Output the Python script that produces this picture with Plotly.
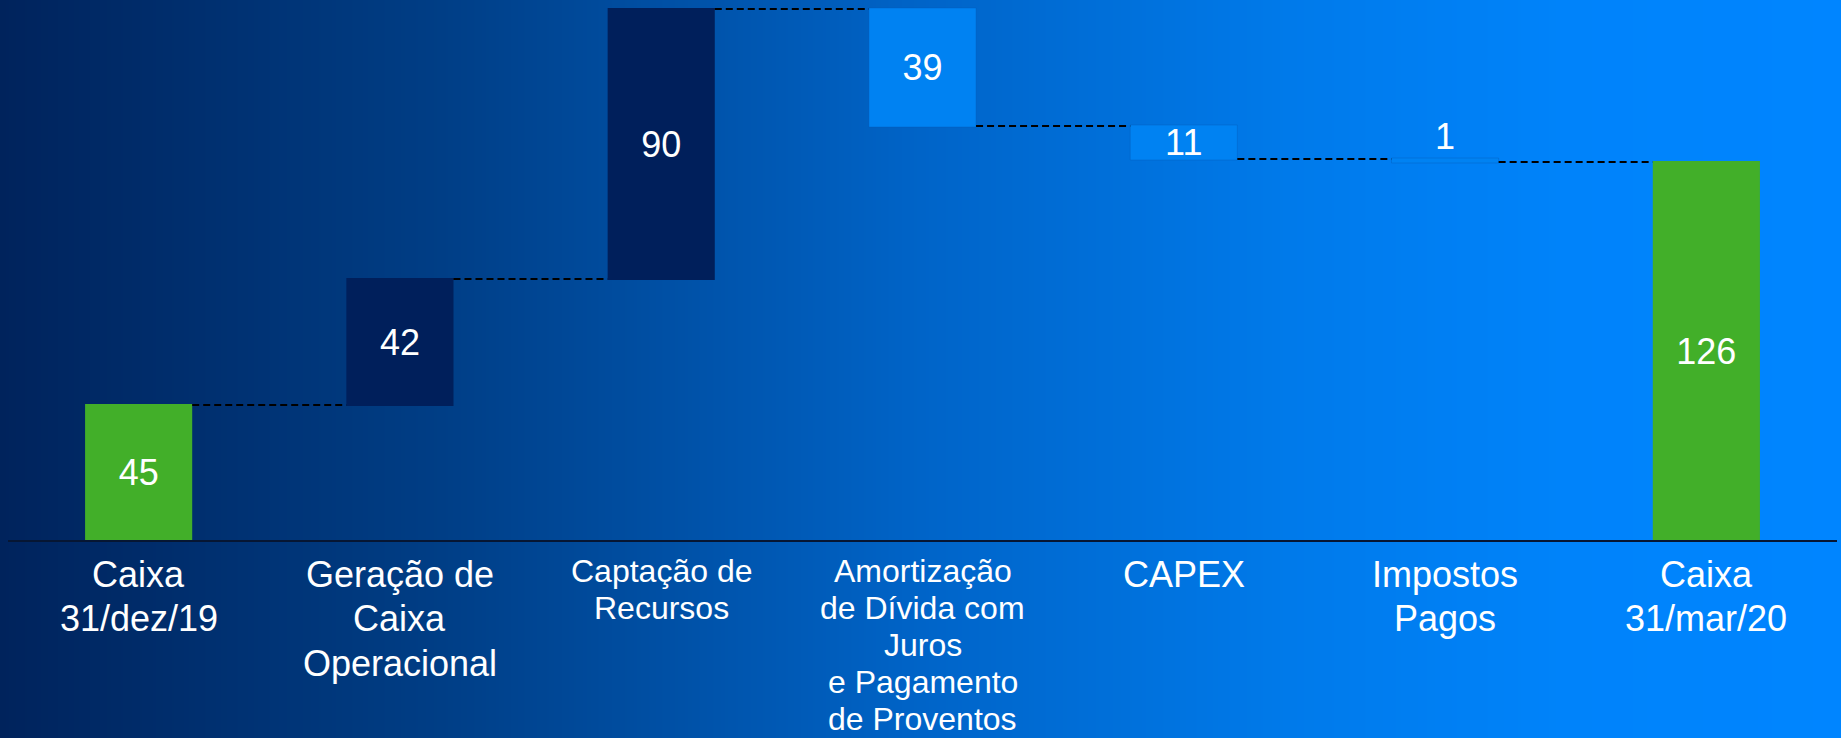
import base64
import struct
import zlib

import numpy as np
import plotly.graph_objects as go

# ---------------- data ----------------
categories = [
    "Caixa 31/dez/19",
    "Geração de Caixa Operacional",
    "Captação de Recursos",
    "Amortização de Dívida com Juros e Pagamento de Proventos",
    "CAPEX",
    "Impostos Pagos",
    "Caixa 31/mar/20",
]
label_lines = [
    ["Caixa", "31/dez/19"],
    ["Geração de", "Caixa", "Operacional"],
    ["Captação de", "Recursos"],
    ["Amortização", "de Dívida com", "Juros", "e Pagamento", "de Proventos"],
    ["CAPEX"],
    ["Impostos", "Pagos"],
    ["Caixa", "31/mar/20"],
]
measures = ["absolute", "relative", "relative", "relative", "relative", "relative", "total"]
values = [45, 42, 90, -39, -11, -1, 126]
value_labels = ["45", "42", "90", "39", "11", "1", "126"]

# ---------------- style ----------------
W, H = 1841, 738
FONT = "Liberation Sans, Arial, sans-serif"
GREEN = "#42AF29"
NAVY = "#001F5B"
LIGHT = "#0082F2"
label_sizes = [36, 36, 32, 32, 36, 36, 36]

# background gradient image (left dark navy -> right bright blue)
stops_x = [0.0, 0.24, 0.5, 0.7, 0.85, 1.0]
stops_rgb = [(0, 35, 92), (0, 62, 134), (0, 100, 200), (0, 122, 234), (0, 131, 250), (0, 133, 255)]
xs = np.linspace(0, 1, W)
chan = [np.interp(xs, stops_x, [c[i] for c in stops_rgb]) for i in range(3)]
row = np.stack(chan, axis=1).round().astype(np.uint8).tobytes()
raw = b"".join(b"\x00" + row for _ in range(2))


def chunk(tag, data):
    return struct.pack(">I", len(data)) + tag + data + struct.pack(">I", zlib.crc32(tag + data) & 0xFFFFFFFF)


png = (b"\x89PNG\r\n\x1a\n" + chunk(b"IHDR", struct.pack(">IIBBBBB", W, 2, 8, 2, 0, 0, 0))
       + chunk(b"IDAT", zlib.compress(raw, 9)) + chunk(b"IEND", b""))
bg_uri = "data:image/png;base64," + base64.b64encode(png).decode()

textpos = ["inside"] * len(values)
textpos[5] = "none"

fig = go.Figure(
    go.Waterfall(
        x=categories,
        y=values,
        measure=measures,
        text=value_labels,
        textposition=textpos,
        insidetextanchor="middle",
        constraintext="none",
        textangle=0,
        textfont=dict(family=FONT, size=36, color="white"),
        increasing=dict(marker=dict(color=NAVY)),
        decreasing=dict(marker=dict(color=LIGHT, line=dict(color="rgba(0,90,180,0.35)", width=1))),
        totals=dict(marker=dict(color=GREEN)),
        connector=dict(mode="between", line=dict(color="black", width=2, dash="7px,4px")),
        hoverinfo="skip",
    )
)

annotations = []
# small value label above the thin bar
level = sum(values[:5])
annotations.append(dict(x=categories[5], y=level, xref="x", yref="y", text=value_labels[5],
                        showarrow=False, yanchor="bottom", yshift=0,
                        font=dict(family=FONT, size=36, color="white")))

# category labels
for cat, lines, fs in zip(categories, label_lines, label_sizes):
    first_base = 586.5 if fs == 36 else 582.0
    step = 44.5 if fs == 36 else 37.0
    for i, ln in enumerate(lines):
        base = first_base + i * step
        center = base - 0.3465 * fs
        annotations.append(dict(x=cat, y=1 - center / H, xref="x", yref="paper", text=ln,
                                showarrow=False, yanchor="middle", xanchor="center",
                                font=dict(family=FONT, size=fs, color="white")))

fig.update_layout(
    width=W,
    height=H,
    margin=dict(l=0, r=0, t=0, b=0),
    paper_bgcolor="#00235C",
    plot_bgcolor="rgba(0,0,0,0)",
    showlegend=False,
    hovermode=False,
    waterfallgap=0.59,
    uniformtext=dict(mode="show", minsize=36),
    images=[dict(source=bg_uri, xref="paper", yref="paper", x=0, y=1, sizex=1, sizey=1,
                 xanchor="left", yanchor="top", sizing="stretch", layer="below")],
    xaxis=dict(domain=[8 / W, 1837 / W], range=[-0.5, 6.5], showline=True, linecolor="#061633",
               linewidth=2, showticklabels=False, showgrid=False, zeroline=False, ticks=""),
    yaxis=dict(domain=[198 / H, 1], range=[0, 180], visible=False, showgrid=False, zeroline=False),
    annotations=annotations,
)

fig.write_html("out.html", config={"displayModeBar": False},
               post_script="document.body.style.margin='0';document.body.style.overflow='hidden';")
